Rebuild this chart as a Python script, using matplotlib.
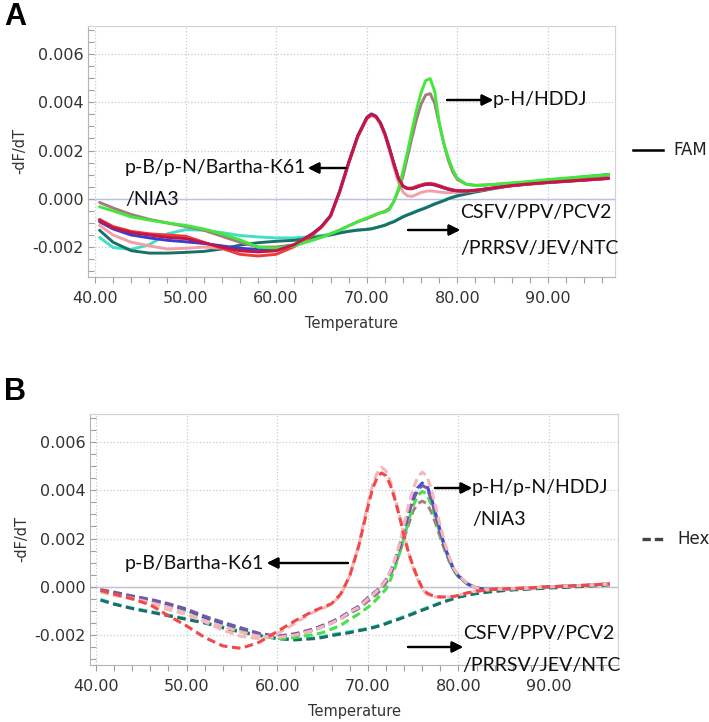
import numpy as np
import matplotlib
matplotlib.use('Agg')
import matplotlib.pyplot as plt
from matplotlib.ticker import MultipleLocator, FormatStrFormatter

W, H = 709, 722

# Temperature grid (deg C) shared by all melt curves
temperature = [40.5, 42, 44, 46, 48, 50, 52, 54, 56, 58,
               60, 62, 64, 65, 66, 67, 68, 69,
               70, 70.5, 71, 71.5, 72, 72.5, 73, 73.5, 74, 74.5,
               75, 75.5, 76, 76.5, 77, 77.5, 78, 78.5, 79, 79.5,
               80, 81, 82, 83, 84, 86, 88, 90, 92, 94, 96.7]

# Panel A - FAM channel, -dF/dT in units of 1e-3
fam_crimson = [-0.90, -1.20, -1.40, -1.50, -1.60, -1.65, -1.82, -2.00, -2.15, -2.20,
               -2.15, -1.90, -1.45, -1.15, -0.70, 0.30, 1.50, 2.60,
               3.35, 3.50, 3.42, 3.15, 2.70, 2.10, 1.45, 0.85, 0.52, 0.42,
               0.42, 0.48, 0.55, 0.60, 0.61, 0.58, 0.52, 0.46, 0.40, 0.36,
               0.33, 0.32, 0.35, 0.40, 0.45, 0.55, 0.62, 0.68, 0.73, 0.78, 0.85]
fam_red = [-0.85, -1.15, -1.35, -1.45, -1.50, -1.55, -1.80, -2.05, -2.30, -2.37,
           -2.30, -1.98, -1.50, -1.18, -0.72, 0.28, 1.48, 2.58,
           3.33, 3.48, 3.40, 3.13, 2.68, 2.08, 1.43, 0.84, 0.52, 0.44,
           0.45, 0.52, 0.58, 0.63, 0.64, 0.61, 0.55, 0.48, 0.42, 0.37,
           0.34, 0.33, 0.36, 0.40, 0.45, 0.54, 0.61, 0.67, 0.72, 0.77, 0.84]
fam_blue = [-0.95, -1.25, -1.50, -1.62, -1.72, -1.78, -1.85, -1.95, -2.05, -2.10,
            -2.10, -1.92, -1.45, -1.15, -0.70, 0.30, 1.50, 2.60,
            3.37, 3.52, 3.43, 3.15, 2.70, 2.10, 1.45, 0.85, 0.52, 0.42,
            0.42, 0.48, 0.55, 0.59, 0.60, 0.57, 0.51, 0.45, 0.39, 0.35,
            0.33, 0.32, 0.35, 0.40, 0.45, 0.55, 0.62, 0.68, 0.73, 0.78, 0.85]
fam_pink = [-1.10, -1.50, -1.80, -1.95, -2.08, -2.05, -2.00, -2.05, -2.15, -2.20,
            -2.15, -1.90, -1.45, -1.15, -0.72, 0.25, 1.45, 2.55,
            3.30, 3.45, 3.38, 3.10, 2.62, 2.00, 1.30, 0.68, 0.28, 0.12,
            0.10, 0.18, 0.26, 0.31, 0.33, 0.31, 0.28, 0.26, 0.25, 0.26,
            0.27, 0.29, 0.33, 0.38, 0.44, 0.54, 0.61, 0.67, 0.72, 0.77, 0.84]
fam_green = [-0.33, -0.50, -0.75, -0.88, -1.00, -1.10, -1.25, -1.45, -1.70, -2.00,
             -2.05, -1.95, -1.72, -1.60, -1.45, -1.30, -1.12, -0.95,
             -0.80, -0.72, -0.64, -0.58, -0.55, -0.45, -0.10, 0.40, 1.15, 1.95,
             2.85, 3.70, 4.40, 4.90, 4.98, 4.45, 3.15, 2.30, 1.70, 1.20,
             0.85, 0.60, 0.55, 0.57, 0.60, 0.66, 0.72, 0.80, 0.86, 0.92, 1.00]
fam_brown = [-0.15, -0.38, -0.65, -0.85, -1.00, -1.15, -1.30, -1.55, -1.80, -2.00,
             -2.00, -1.90, -1.70, -1.58, -1.45, -1.30, -1.12, -0.95,
             -0.82, -0.74, -0.66, -0.58, -0.52, -0.40, -0.10, 0.35, 0.95, 1.75,
             2.55, 3.30, 3.92, 4.30, 4.36, 3.95, 3.10, 2.30, 1.60, 1.10,
             0.80, 0.60, 0.56, 0.57, 0.59, 0.64, 0.70, 0.77, 0.83, 0.89, 0.96]
fam_teal = [-1.30, -1.80, -2.15, -2.25, -2.25, -2.22, -2.18, -2.08, -1.92, -1.82,
            -1.76, -1.72, -1.62, -1.56, -1.50, -1.42, -1.35, -1.30,
            -1.27, -1.25, -1.20, -1.15, -1.10, -1.02, -0.95, -0.85, -0.75, -0.67,
            -0.60, -0.52, -0.45, -0.38, -0.30, -0.22, -0.15, -0.08, 0.00, 0.06,
            0.12, 0.20, 0.28, 0.35, 0.42, 0.55, 0.65, 0.75, 0.82, 0.90, 1.00]
fam_cyan = [-1.60, -2.02, -2.10, -1.90, -1.45, -1.28, -1.30, -1.40, -1.52, -1.58,
            -1.62, -1.62, -1.56, -1.52, -1.47, -1.40, -1.34, -1.29,
            -1.26, -1.23, -1.19, -1.14, -1.08, -1.00, -0.93, -0.83, -0.73, -0.65,
            -0.58, -0.50, -0.43, -0.36, -0.28, -0.20, -0.13, -0.06, 0.02, 0.08,
            0.14, 0.22, 0.30, 0.37, 0.44, 0.57, 0.67, 0.77, 0.84, 0.92, 1.01]

# Panel B - Hex channel, -dF/dT in units of 1e-3
hex_red = [-0.15, -0.30, -0.50, -0.75, -1.20, -1.62, -2.10, -2.45, -2.55, -2.30,
           -1.85, -1.40, -1.00, -0.85, -0.70, -0.30, 0.45, 1.70,
           3.30, 4.05, 4.50, 4.72, 4.60, 4.20, 3.60, 2.90, 2.10, 1.40,
           0.84, 0.35, -0.05, -0.25, -0.35, -0.40, -0.42, -0.42, -0.41, -0.40,
           -0.35, -0.25, -0.18, -0.14, -0.10, -0.07, -0.04, 0.00, 0.03, 0.06, 0.12]
hex_pink1 = [-0.20, -0.35, -0.50, -0.70, -0.95, -1.15, -1.45, -1.80, -2.05, -2.15,
             -1.95, -1.50, -1.05, -0.90, -0.72, -0.35, 0.45, 1.75,
             3.45, 4.20, 4.70, 4.95, 4.80, 4.35, 3.70, 2.95, 2.15, 1.40,
             0.80, 0.30, -0.10, -0.30, -0.38, -0.42, -0.43, -0.43, -0.42, -0.40,
             -0.35, -0.25, -0.18, -0.14, -0.10, -0.07, -0.04, 0.00, 0.03, 0.06, 0.12]
hex_blue = [-0.15, -0.25, -0.40, -0.55, -0.72, -0.95, -1.27, -1.50, -1.72, -1.95,
            -2.08, -2.00, -1.80, -1.65, -1.50, -1.30, -1.08, -0.85,
            -0.50, -0.35, -0.20, 0.00, 0.25, 0.60, 1.05, 1.65, 2.35, 3.10,
            3.70, 4.10, 4.30, 4.20, 3.70, 3.00, 2.30, 1.65, 1.15, 0.70,
            0.45, 0.12, -0.05, -0.10, -0.10, -0.08, -0.05, 0.00, 0.03, 0.06, 0.12]
hex_purple = [-0.12, -0.22, -0.38, -0.52, -0.70, -0.92, -1.22, -1.47, -1.70, -1.93,
              -2.05, -1.95, -1.75, -1.60, -1.45, -1.26, -1.02, -0.80,
              -0.45, -0.30, -0.15, 0.05, 0.30, 0.65, 1.10, 1.70, 2.35, 3.05,
              3.60, 4.00, 4.20, 4.10, 3.62, 2.95, 2.25, 1.62, 1.12, 0.70,
              0.45, 0.12, -0.05, -0.10, -0.10, -0.08, -0.05, 0.00, 0.03, 0.06, 0.12]
hex_pink2 = [-0.20, -0.32, -0.48, -0.65, -0.85, -1.10, -1.40, -1.65, -1.88, -2.05,
             -2.10, -2.00, -1.80, -1.65, -1.50, -1.32, -1.05, -0.85,
             -0.50, -0.35, -0.18, 0.02, 0.28, 0.65, 1.15, 1.80, 2.60, 3.40,
             4.05, 4.55, 4.75, 4.60, 4.05, 3.30, 2.50, 1.80, 1.22, 0.75,
             0.48, 0.13, -0.05, -0.10, -0.10, -0.08, -0.05, 0.00, 0.03, 0.06, 0.12]
hex_green = [-0.20, -0.30, -0.45, -0.60, -0.78, -1.00, -1.30, -1.55, -1.78, -2.00,
             -2.15, -2.10, -1.98, -1.90, -1.75, -1.60, -1.35, -1.12,
             -0.85, -0.70, -0.50, -0.30, -0.10, 0.30, 0.80, 1.40, 2.05, 2.75,
             3.35, 3.78, 3.95, 3.85, 3.40, 2.80, 2.15, 1.55, 1.05, 0.65,
             0.40, 0.10, -0.05, -0.10, -0.10, -0.08, -0.05, 0.00, 0.03, 0.06, 0.13]
hex_brown = [-0.15, -0.27, -0.42, -0.57, -0.74, -0.97, -1.28, -1.52, -1.75, -1.97,
             -2.05, -1.95, -1.75, -1.62, -1.48, -1.32, -1.10, -0.90,
             -0.60, -0.45, -0.30, -0.10, 0.15, 0.50, 0.90, 1.40, 2.00, 2.60,
             3.15, 3.45, 3.55, 3.45, 3.10, 2.60, 2.05, 1.50, 1.05, 0.70,
             0.45, 0.12, -0.05, -0.10, -0.10, -0.08, -0.05, 0.00, 0.03, 0.06, 0.12]
hex_teal = [-0.55, -0.72, -0.90, -1.05, -1.20, -1.35, -1.50, -1.70, -1.88, -2.02,
            -2.15, -2.20, -2.15, -2.10, -2.02, -1.96, -1.90, -1.82,
            -1.75, -1.70, -1.65, -1.60, -1.53, -1.46, -1.40, -1.33, -1.26, -1.19,
            -1.12, -1.04, -0.97, -0.90, -0.82, -0.75, -0.68, -0.61, -0.55, -0.49,
            -0.43, -0.35, -0.28, -0.23, -0.19, -0.13, -0.09, -0.05, -0.02, 0.02, 0.08]
hex_cyan = [-0.52, -0.70, -0.88, -1.02, -1.17, -1.32, -1.48, -1.66, -1.84, -2.00,
            -2.12, -2.17, -2.12, -2.06, -1.98, -1.92, -1.86, -1.79,
            -1.72, -1.67, -1.62, -1.56, -1.50, -1.43, -1.37, -1.30, -1.23, -1.16,
            -1.08, -1.01, -0.94, -0.87, -0.80, -0.73, -0.66, -0.59, -0.53, -0.47,
            -0.41, -0.33, -0.26, -0.21, -0.17, -0.11, -0.07, -0.03, 0.00, 0.04, 0.10]

# draw order (bottom -> top) and colours
fam_curves = [(fam_cyan, '#3fe0c4'), (fam_teal, '#1b6f66'), (fam_pink, '#f2a0a8'),
              (fam_blue, '#3c3cd0'), (fam_red, '#f03a3a'), (fam_brown, '#a47c7c'),
              (fam_green, '#44e83c'), (fam_crimson, '#c0174b')]
hex_curves = [(hex_cyan, '#44dcc4'), (hex_teal, '#1d6e66'), (hex_brown, '#a08282'),
              (hex_green, '#4ae04a'), (hex_blue, '#4646dc'), (hex_purple, '#7658a8'),
              (hex_pink2, '#f5b8b8'), (hex_pink1, '#f5b8b8'), (hex_red, '#f24848')]

tick_font = 'DejaVu Sans'
note_font = 'Lato'


def px(x, y):
    # figure pixel (top-left origin) -> figure fraction
    return (x / W, 1 - y / H)


def style_axes(ax, xlim, zero_color):
    ax.set_xlim(*xlim)
    ax.set_ylim(-0.00324, 0.00716)
    ax.xaxis.set_major_locator(MultipleLocator(10))
    ax.xaxis.set_minor_locator(MultipleLocator(2))
    ax.yaxis.set_major_locator(MultipleLocator(0.002))
    ax.yaxis.set_minor_locator(MultipleLocator(0.0005))
    ax.xaxis.set_major_formatter(FormatStrFormatter('%.2f'))
    ax.yaxis.set_major_formatter(FormatStrFormatter('%.3f'))
    ax.tick_params(axis='both', which='both', colors='#a0a0a0', labelcolor='#333333',
                   labelsize=11.5, length=4, width=0.8)
    ax.tick_params(axis='y', which='both', direction='in')
    ax.tick_params(axis='x', which='both', direction='out', pad=6)
    for lab in ax.get_xticklabels() + ax.get_yticklabels():
        lab.set_fontfamily(tick_font)
    for side in ['left', 'bottom']:
        ax.spines[side].set_color('#b4b4b4')
    for side in ['top', 'right']:
        ax.spines[side].set_color('#d2d2d2')
    ax.grid(True, which='major', color='#c4cadc', linestyle=':', linewidth=0.9)
    ax.axhline(0, color=zero_color, linewidth=1.0, zorder=1)
    ax.set_xlabel('Temperature', fontsize=10.5, color='#333333', labelpad=7)
    ax.set_ylabel('-dF/dT', fontsize=10.5, color='#333333')
    ax.yaxis.set_label_coords(-0.115, 0.5)


def arrow(fig, start, end):
    fig.add_artist(plt.annotate('', xy=px(*end), xycoords='figure fraction',
                                xytext=px(*start), textcoords='figure fraction',
                                arrowprops=dict(arrowstyle='-|>', color='black', lw=1.6,
                                                mutation_scale=16, shrinkA=0, shrinkB=0)))


def note(fig, x, y, s):
    fig.text(*px(x, y), s, fontsize=14, family=note_font, color='#111111',
             ha='left', va='center')


fig = plt.figure(figsize=(W / 100, H / 100), dpi=100)
T = np.array(temperature)

# ---- Panel A (FAM) ----
axA = fig.add_axes([88 / W, 1 - 277 / H, (615 - 88) / W, (277 - 26) / H])
style_axes(axA, (39.23, 97.4), '#b4bcf0')
for vals, col in fam_curves:
    axA.plot(T, np.array(vals) * 1e-3, color=col, lw=2.1, solid_capstyle='round')

fig.text(*px(4, 17), 'A', fontsize=22, fontweight='bold', family='Liberation Sans',
         ha='left', va='center')
note(fig, 125, 168, 'p-B/p-N/Bartha-K61')
note(fig, 125, 200, '/NIA3')
arrow(fig, (346, 168), (308, 168))
note(fig, 493, 100, 'p-H/HDDJ')
arrow(fig, (447, 100), (493, 100))
note(fig, 460, 213, 'CSFV/PPV/PCV2')
note(fig, 460, 248, '/PRRSV/JEV/NTC')
arrow(fig, (408, 230), (460, 230))

# FAM legend
fig.add_artist(plt.Line2D([633 / W, 663 / W], [1 - 150 / H] * 2, color='black', lw=1.8))
fig.text(*px(673, 150), 'FAM', fontsize=12, family=tick_font, color='#222222',
         ha='left', va='center')

# ---- Panel B (Hex) ----
axB = fig.add_axes([90 / W, 1 - 665 / H, (618 - 90) / W, (665 - 414) / H])
style_axes(axB, (39.34, 97.6), '#c0c0c0')
for vals, col in hex_curves:
    axB.plot(T, np.array(vals) * 1e-3, color=col, lw=2.2, dashes=(2.8, 1.5))

fig.text(*px(4, 392), 'B', fontsize=22, fontweight='bold', family='Liberation Sans',
         ha='left', va='center')
note(fig, 125, 563, 'p-B/Bartha-K61')
arrow(fig, (348, 563), (267, 563))
note(fig, 472, 488, 'p-H/p-N/HDDJ')
note(fig, 472, 520, '/NIA3')
arrow(fig, (435, 488), (472, 488))
note(fig, 463, 633, 'CSFV/PPV/PCV2')
note(fig, 462, 665, '/PRRSV/JEV/NTC')
arrow(fig, (408, 647), (463, 647))

# Hex legend
fig.add_artist(plt.Line2D([642 / W, 663 / W], [1 - 539 / H] * 2, color='#444444', lw=2.4,
                          dashes=(2.5, 1.2)))
fig.text(*px(677, 539), 'Hex', fontsize=12, family=tick_font, color='#222222',
         ha='left', va='center')

plt.savefig('out.png', dpi=100)
